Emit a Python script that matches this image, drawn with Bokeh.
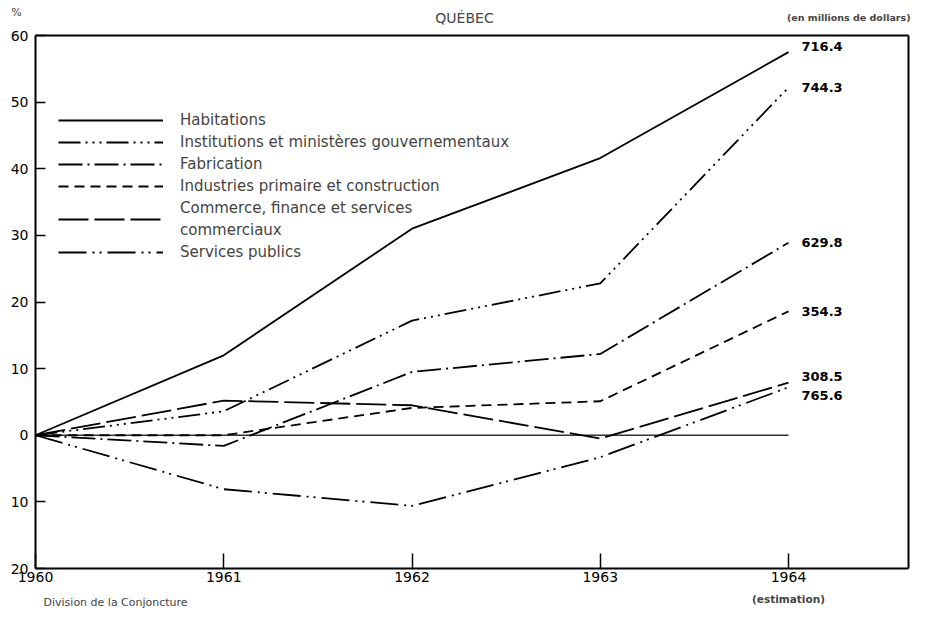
from bokeh.plotting import figure
from bokeh.models import FixedTicker, Label, Legend, LegendItem, Range1d, ColumnDataSource, LinearAxis
from bokeh.embed import file_html
from bokeh.resources import INLINE
from bokeh.core.properties import value

# ---------------- data (percent change since 1960) ----------------
years = [1960, 1961, 1962, 1963, 1964]
habitations = [0, 12.0, 31.0, 41.6, 57.5]
institutions = [0, 3.6, 17.2, 22.8, 52.2]
fabrication = [0, -1.6, 9.5, 12.2, 28.9]
industries = [0, 0.0, 4.1, 5.1, 18.6]
commerce = [0, 5.2, 4.5, -0.5, 7.9]
services = [0, -8.1, -10.6, -3.3, 7.2]
zero_line = [0, 0, 0, 0, 0]

series_names = [
    "Habitations",
    "Institutions et ministères gouvernementaux",
    "Fabrication",
    "Industries primaire et construction",
    "Commerce, finance et services commerciaux",
    "Services publics",
]
commerce_label_lines = ["Commerce, finance et services", "commerciaux"]
end_labels = ["716.4", "744.3", "629.8", "354.3", "308.5", "765.6"]

y_ticks = [60, 50, 40, 30, 20, 10, 0, -10, -20]
y_tick_labels = ["60", "50", "40", "30", "20", "10", "0", "10", "20"]
x_ticks = [1960, 1961, 1962, 1963, 1964]
x_tick_labels = ["1960", "1961", "1962", "1963", "1964"]

FONT = "DejaVu Sans"

# ---------------- layout (pixels) ----------------
W, H = 912, 610
PX_LEFT, PX_TOP, PX_BOTTOM, PX_1964, PX_RIGHT = 35, 35, 568, 788, 908
ppx = (PX_1964 - PX_LEFT) / (x_ticks[-1] - x_ticks[0])
ppy = (PX_BOTTOM - PX_TOP) / (y_ticks[0] - y_ticks[-1])
x0 = x_ticks[0] - PX_LEFT / ppx
x1 = x_ticks[0] + (W - PX_LEFT) / ppx
y1 = y_ticks[0] + PX_TOP / ppy
y0 = y_ticks[-1] - (H - PX_BOTTOM) / ppy
x_right = x_ticks[0] + (PX_RIGHT - PX_LEFT) / ppx


def dx(px):
    return x0 + px / ppx


def dy(py):
    return y1 - py / ppy


p = figure(width=W, height=H, output_backend="svg", toolbar_location=None,
           x_range=Range1d(x0, x1), y_range=Range1d(y0, y1),
           x_axis_type=None, y_axis_type=None, min_border=0)
p.background_fill_color = "white"
p.border_fill_color = "white"
p.outline_line_color = None
p.grid.visible = False


def style_axis(ax):
    ax.axis_line_width = 2
    ax.axis_line_color = "black"
    ax.major_tick_line_width = 1.5
    ax.major_tick_line_color = "black"
    ax.major_tick_out = 0
    ax.minor_tick_line_color = None
    ax.major_label_text_font = FONT
    ax.major_label_text_font_size = "14px"
    ax.major_label_text_color = "black"


yax = LinearAxis(fixed_location=x_ticks[0], bounds=(y_ticks[-1], y_ticks[0]),
                 ticker=FixedTicker(ticks=y_ticks))
style_axis(yax)
yax.major_label_overrides = {t: l for t, l in zip(y_ticks, y_tick_labels)}
yax.major_tick_in = 10
yax.major_label_standoff = 7
p.add_layout(yax, "left")

xax = LinearAxis(fixed_location=y_ticks[-1], bounds=(x_ticks[0], x_right),
                 ticker=FixedTicker(ticks=x_ticks))
style_axis(xax)
xax.major_label_overrides = {t: l for t, l in zip(x_ticks, x_tick_labels)}
xax.major_tick_in = 15
xax.major_label_standoff = 3
p.add_layout(xax, "below")

top_ax = LinearAxis(fixed_location=y_ticks[0], bounds=(x_ticks[0], x_right),
                    ticker=FixedTicker(ticks=[]))
style_axis(top_ax)
top_ax.major_tick_line_color = None
p.add_layout(top_ax, "above")

right_ax = LinearAxis(fixed_location=x_right, bounds=(y_ticks[-1], y_ticks[0]),
                      ticker=FixedTicker(ticks=[]))
style_axis(right_ax)
right_ax.major_tick_line_color = None
p.add_layout(right_ax, "right")

# zero reference line
p.line(years, zero_line, line_color="#333333", line_width=1.5)

values = [habitations, institutions, fabrication, industries, commerce, services]
dashes = ["solid", "22 5 2 5 2 5 2 5", "24 5 2 5", "10 6", "30 6", "28 6 2 5 2 6"]
renderers = []
for vals, dash, name in zip(values, dashes, series_names):
    r = p.line(years, vals, line_color="black", line_width=1.8, line_dash=dash, name=name)
    renderers.append(r)

# invisible helper renderers for the two text-only legend rows of "Commerce ..."
ghost1 = p.line(years, commerce, line_alpha=0)
ghost2 = p.line(years, commerce, line_alpha=0)

items = [
    LegendItem(label=series_names[0], renderers=[renderers[0]]),
    LegendItem(label=series_names[1], renderers=[renderers[1]]),
    LegendItem(label=series_names[2], renderers=[renderers[2]]),
    LegendItem(label=series_names[3], renderers=[renderers[3]]),
    LegendItem(label=commerce_label_lines[0], renderers=[ghost1]),
    LegendItem(label=commerce_label_lines[1], renderers=[ghost2]),
    LegendItem(label=series_names[5], renderers=[renderers[5]]),
]
legend_kw = dict(glyph_width=105, glyph_height=18, label_height=20,
                 label_standoff=17, spacing=2, padding=0, margin=0,
                 label_text_font=FONT, label_text_font_size="15px",
                 border_line_color=None, background_fill_alpha=0)
legend = Legend(items=items, location=(58, 348), **legend_kw)
p.add_layout(legend, "center")
# sample line of "Commerce ..." sits between its two text rows
legend2 = Legend(items=[LegendItem(label=" ", renderers=[renderers[4]])],
                 location=(58, 381), **legend_kw)
p.add_layout(legend2, "center")

# end-of-line values
ends = [v[-1] for v in values]
src = ColumnDataSource(dict(x=[years[-1]] * 6, y=ends, t=end_labels,
                            dy=[-6, 0, 0, 0, -6, 8]))
p.text(x="x", y="y", text="t", source=src, x_offset=13, y_offset="dy",
       text_font=value(FONT), text_font_size="13px", text_font_style="bold",
       text_baseline="middle", text_align="left", text_color="black")

# annotations
p.add_layout(Label(x=dx(16), y=dy(12), text="%", text_align="center",
                   text_font=FONT, text_font_size="11px", text_baseline="middle"))
p.add_layout(Label(x=dx(464), y=dy(17), text="QUÉBEC", text_align="center",
                   text_font=FONT, text_font_size="14px", text_baseline="middle"))
p.add_layout(Label(x=dx(910), y=dy(17), text="(en millions de dollars)",
                   text_align="right", text_font=FONT, text_font_size="9.5px",
                   text_font_style="bold", text_baseline="middle"))
p.add_layout(Label(x=x_ticks[-1], y=dy(598), text="(estimation)", text_align="center",
                   text_font=FONT, text_font_size="10.5px", text_font_style="bold",
                   text_baseline="middle"))
p.add_layout(Label(x=dx(43), y=dy(602), text="Division de la Conjoncture",
                   text_font=FONT, text_font_size="11px", text_baseline="middle"))

open("out.html", "w").write(file_html(p, INLINE))
